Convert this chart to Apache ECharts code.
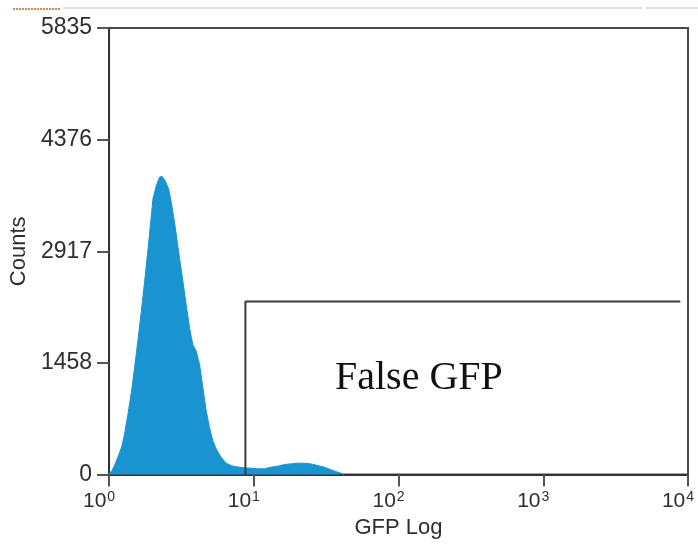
<!DOCTYPE html>
<html>
<head>
<meta charset="utf-8">
<script src="https://cdn.jsdelivr.net/npm/echarts@6/dist/echarts.min.js"></script>
<style>
  html, body { margin: 0; padding: 0; background: #fff; }
  #chart { width: 698px; height: 544px; }
</style>
</head>
<body>
<div id="chart"></div>
<script>
// GFP fluorescence intensity (log scale) for each histogram point
const gfpIntensity = [
  1.00, 1.01, 1.05, 1.09, 1.15, 1.22, 1.28, 1.35, 1.43, 1.50, 1.58, 1.67, 1.76,
  1.86, 1.94, 2.01, 2.12, 2.23, 2.32, 2.44, 2.58, 2.69, 2.83, 2.96, 3.07, 3.24,
  3.41, 3.60, 3.79, 4.00, 4.22, 4.45, 4.69, 4.94, 5.21, 5.50, 5.94, 6.44, 6.97,
  7.35, 8.61, 9.57, 10.67, 11.83, 13.15, 14.66, 16.26, 18.07, 20.09, 22.34,
  24.83, 27.61, 30.69, 34.12, 37.93, 41.11, 41.98
];
// Event counts at each intensity
const eventCounts = [
  10, 19, 55, 119, 227, 357, 530, 789, 1093, 1395, 1742, 2131, 2521,
  2953, 3300, 3602, 3775, 3884, 3897, 3840, 3732, 3559, 3300, 3040, 2823, 2521,
  2217, 1915, 1698, 1612, 1438, 1136, 833, 616, 444, 335, 227, 149, 119,
  106, 88, 84, 75, 75, 97, 110, 132, 140, 149, 149,
  140, 119, 97, 62, 32, 10, 0
];

// Gate region "False GFP": start intensity, end intensity, gate height (counts)
const gateStart = 8.75;
const gateEnd = 8850;
const gateLevel = 2261;
const gateName = 'False GFP';

// Axis ranges and tick labels
const xMin = 1, xMax = 10000;
const xTickExponents = ['0', '1', '2', '3', '4'];
const yMax = 5835;
const yTickLabels = ['0', '1458', '2917', '4376', '5835'];

const histData = gfpIntensity.map((x, i) => [x, eventCounts[i]]);
const gateData = [[gateStart, 0], [gateStart, gateLevel], [gateEnd, gateLevel]];

const chart = echarts.init(document.getElementById('chart'), null, { renderer: 'canvas' });

const axisFont = 'Liberation Sans, Arial, sans-serif';

chart.setOption({
  animation: false,
  backgroundColor: '#ffffff',
  grid: {
    left: 108, right: 10, top: 28, bottom: 65,
    show: true, borderColor: '#4a4a4a', borderWidth: 2, backgroundColor: 'transparent'
  },
  xAxis: {
    type: 'log',
    logBase: 10,
    min: xMin,
    max: xMax,
    name: 'GFP Log',
    nameLocation: 'middle',
    nameGap: 35,
    nameTextStyle: { fontFamily: axisFont, fontSize: 22, color: '#2e2e2e' },
    axisLine: { show: true, lineStyle: { color: '#333', width: 2 } },
    axisTick: { show: true, length: 12, lineStyle: { color: '#555', width: 2 } },
    splitLine: { show: false },
    minorTick: { show: false },
    axisLabel: {
      margin: 16,
      padding: [0, 20, 0, 0],
      formatter: function (v, i) {
        return '{b|10}{s|' + xTickExponents[i] + '}';
      },
      rich: {
        b: { fontFamily: axisFont, fontSize: 21, color: '#2e2e2e' },
        s: { fontFamily: axisFont, fontSize: 14, color: '#2e2e2e', verticalAlign: 'top', padding: [0, 0, 8, 1] }
      }
    }
  },
  yAxis: {
    type: 'value',
    min: 0,
    max: yMax,
    interval: yMax / 4,
    name: 'Counts',
    nameLocation: 'middle',
    nameRotate: 90,
    nameGap: 74,
    nameTextStyle: { fontFamily: axisFont, fontSize: 22, color: '#2e2e2e' },
    axisLine: { show: true, lineStyle: { color: '#333', width: 2 } },
    axisTick: { show: true, length: 12, lineStyle: { color: '#555', width: 2 } },
    splitLine: { show: false },
    axisLabel: {
      margin: 17,
      fontFamily: axisFont,
      fontSize: 23,
      color: '#2e2e2e',
      formatter: function (v, i) { return yTickLabels[i]; }
    }
  },
  series: [
    {
      name: 'GFP',
      type: 'line',
      data: histData,
      symbol: 'none',
      smooth: false,
      lineStyle: { color: '#1a94d1', width: 1 },
      areaStyle: { color: '#1a94d1', opacity: 1 },
      z: 2
    },
    {
      name: gateName,
      type: 'line',
      data: gateData,
      symbol: 'none',
      lineStyle: { color: '#3a3a3a', width: 2 },
      z: 3
    }
  ],
  graphic: [
    {
      type: 'text',
      left: 335,
      top: 358,
      style: {
        text: gateName,
        font: '40px "Liberation Serif", "Times New Roman", serif',
        fill: '#111'
      },
      z: 10
    },
    {
      type: 'line',
      shape: { x1: 13, y1: 9, x2: 60, y2: 9 },
      style: { stroke: '#c98a62', lineWidth: 2, lineDash: [2, 1] }
    },
    {
      type: 'line',
      shape: { x1: 63, y1: 8, x2: 642, y2: 8 },
      style: { stroke: '#d4d4d4', lineWidth: 1.5 }
    },
    {
      type: 'line',
      shape: { x1: 645, y1: 8, x2: 698, y2: 8 },
      style: { stroke: '#d4d4d4', lineWidth: 1.5 }
    }
  ]
});
</script>
</body>
</html>
